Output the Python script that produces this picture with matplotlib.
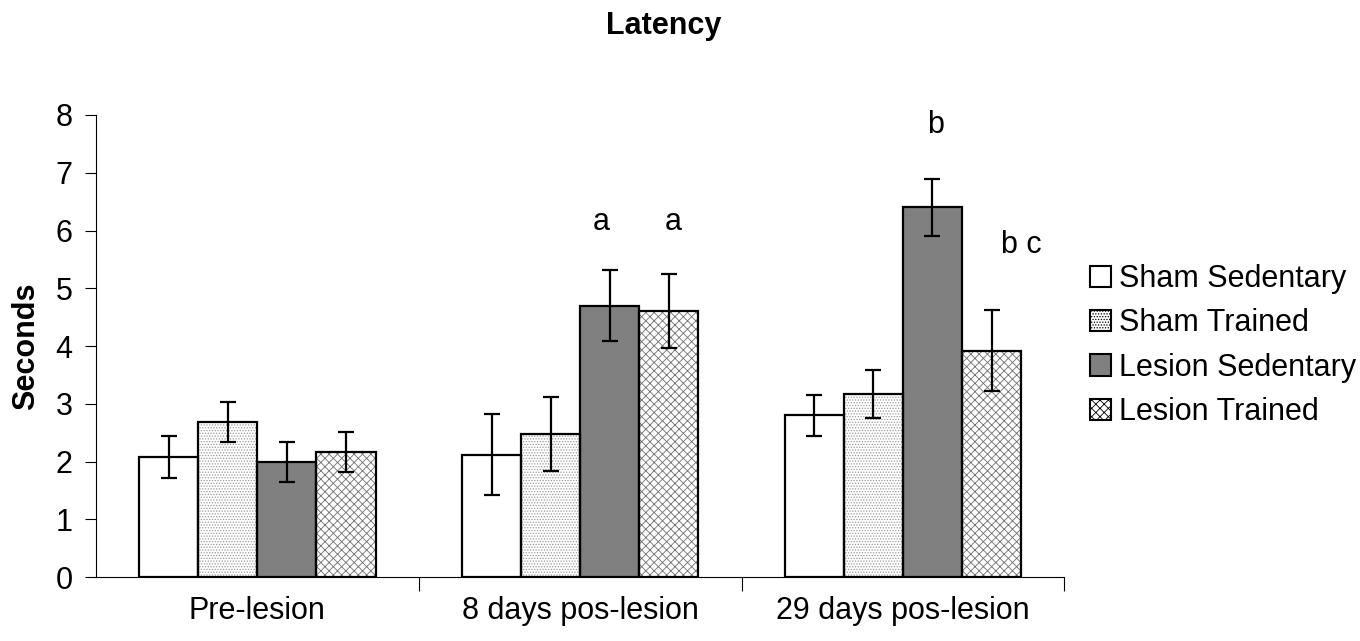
import matplotlib
matplotlib.use("Agg")
import matplotlib.pyplot as plt
import numpy as np

plt.rcParams["font.family"] = ["Liberation Sans", "DejaVu Sans"]
plt.rcParams["hatch.linewidth"] = 0.6

categories = ["Pre-lesion", "8 days pos-lesion", "29 days pos-lesion"]
groups = ["Sham Sedentary", "Sham Trained", "Lesion Sedentary", "Lesion Trained"]
means = {
    "Sham Sedentary": [2.08, 2.12, 2.80],
    "Sham Trained": [2.68, 2.48, 3.17],
    "Lesion Sedentary": [1.99, 4.70, 6.40],
    "Lesion Trained": [2.16, 4.60, 3.92],
}
errors = {
    "Sham Sedentary": [0.37, 0.70, 0.35],
    "Sham Trained": [0.35, 0.64, 0.42],
    "Lesion Sedentary": [0.35, 0.62, 0.50],
    "Lesion Trained": [0.35, 0.64, 0.70],
}
# significance letters: (category index, group index, text, y)
letters = [(1, 2, "a", 6.15), (1, 3, "a", 6.15), (2, 2, "b", 7.83), (2, 3, "b c", 5.75)]
letter_nudge = [-0.025, 0.015, 0.01, 0.093]  # small horizontal shifts, category units

styles = {
    "Sham Sedentary": dict(face="white", hatch=None, hcol="white"),
    "Sham Trained": dict(face="white", hatch="......", hcol="#9a9a9a"),
    "Lesion Sedentary": dict(face="#808080", hatch=None, hcol="#808080"),
    "Lesion Trained": dict(face="white", hatch="xxxx", hcol="#707070"),
}

FS = 22

fig = plt.figure(figsize=(13.6, 6.41), dpi=100)
ax = fig.add_axes([0.0706, 0.0998, 0.712, 0.7208])

x = np.arange(len(categories))
width = 0.183
offsets = (np.arange(len(groups)) - 1.5) * width

handles = []
for i, g in enumerate(groups):
    st = styles[g]
    xs = x + offsets[i]
    ax.bar(xs, means[g], width, color=st["face"], hatch=st["hatch"],
           edgecolor=st["hcol"], linewidth=0, zorder=2)
    ax.bar(xs, means[g], width, facecolor="none", edgecolor="black",
           linewidth=1.6, zorder=3)
    ax.errorbar(xs, means[g], yerr=errors[g], fmt="none", ecolor="black",
                elinewidth=1.6, capsize=5.5, capthick=1.6, zorder=4)
    handles.append(plt.Rectangle((0, 0), 1, 1, facecolor=st["face"], hatch=st["hatch"],
                                 edgecolor="black", linewidth=1.5))

for (ci, gi, txt, yv), dx in zip(letters, letter_nudge):
    ax.text(x[ci] + offsets[gi] + dx, yv, txt, ha="center", va="center", fontsize=FS)

ax.set_xlim(-0.5, 2.5)
ax.set_ylim(0, 8)
ax.set_yticks(range(0, 9))
ax.tick_params(axis="y", labelsize=FS, length=8, width=0.8, pad=9)
ax.set_xticks([0.5, 1.5, 2.5], minor=False)
ax.set_xticklabels([])
ax.set_xticks(x, minor=True)
ax.set_xticklabels(categories, minor=True)
ax.tick_params(axis="x", which="major", length=10, width=0.8)
ax.tick_params(axis="x", which="minor", length=0, labelsize=FS, pad=14)
for s in ("left", "bottom"):
    ax.spines[s].set_linewidth(0.8)
ax.spines["top"].set_visible(False)
ax.spines["right"].set_visible(False)
ax.set_ylabel("Seconds", fontsize=FS, fontweight="bold", labelpad=10)
fig.text(0.488, 0.96, "Latency", fontsize=FS, fontweight="bold", ha="center", va="center")

fig.legend(handles, groups, loc="center left", bbox_to_anchor=(0.8015, 0.461),
           frameon=False, fontsize=FS, handlelength=0.7, handleheight=0.7,
           handletextpad=0.25, labelspacing=0.47, borderpad=0, borderaxespad=0)

plt.savefig("out.png", dpi=100)
plt.close()
